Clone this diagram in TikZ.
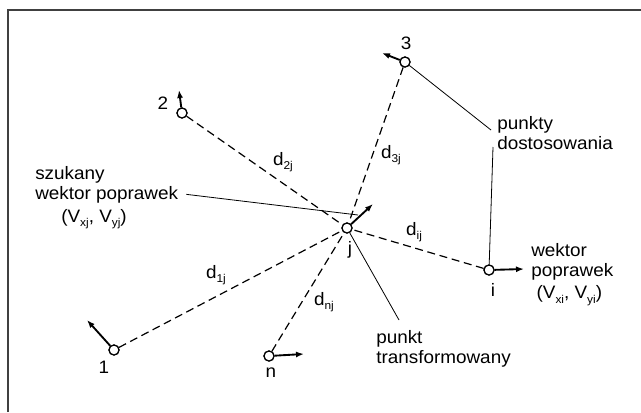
\documentclass[tikz,border=0pt]{standalone}
\usepackage{fontspec}
\setmainfont{Liberation Sans}[FakeStretch=1.05]
\usetikzlibrary{arrows.meta}

\newcommand{\lowidx}[1]{\raisebox{-0.45ex}{\fontsize{8.5}{8.5}\selectfont #1}}

\begin{document}
\begin{tikzpicture}[
  x=0.75pt, y=-0.75pt,
  font=\fontsize{13.5}{15}\selectfont,
  pt/.style={circle, draw, line width=0.9pt, fill=white, minimum size=7.5pt, inner sep=0pt},
  lbl/.style={inner sep=0pt},
  txt/.style={anchor=north west, align=left, inner sep=0pt},
  line/.style={anchor=base west, inner sep=0pt},
  link/.style={dash pattern=on 6pt off 3.5pt, line width=0.9pt},
  lead/.style={line width=0.6pt},
  vec/.style={->, line width=1.4pt},
  >={Latex[length=6pt, width=4.5pt]}
]
  \useasboundingbox (0,0) rectangle (641,412);
  \draw[black!75, line width=1.4pt] (8,412) -- (8,10) -- (641,10);

  % texts of the leaders
  \node[line] (sz1) at (35,179) {szukany};
  \node[line] (sz2) at (35,199) {wektor poprawek};
  \node[line] (sz3) at (61,222) {(V\lowidx{xj}, V\lowidx{yj})};
  \node[txt] (wek) at (531,243) {wektor\\poprawek\\[2pt]\hspace*{4pt}(V\lowidx{xi}, V\lowidx{yi})};
  \node[txt] (dost) at (497,116) {punkty\\dostosowania};
  \node[txt] (trans) at (376,330) {punkt\\transformowany};

  \coordinate (jt) at (358,215);
  \coordinate (pd1) at (491,130);
  \coordinate (pd2) at (493,147);
  \coordinate (tr) at (399,320);

  \node[pt] (pj) at (347,228) {};
  \node[pt] (p1) at (114,350) {};
  \node[pt] (p2) at (182,113) {};
  \node[pt] (p3) at (405,62) {};
  \node[pt] (pn) at (269,356) {};
  \node[pt] (pi) at (489,270) {};

  \draw[link] (p1) -- (pj);
  \draw[link] (p2) -- (pj);
  \draw[link] (p3) -- (pj);
  \draw[link] (pn) -- (pj);
  \draw[link] (pi) -- (pj);

  \draw[lead] ([xshift=6pt]sz2.east) -- (jt);
  \draw[lead] (p3) -- (pd1);
  \draw[lead] (pd2) -- (pi);
  \draw[lead] (pj) -- (tr);

  \coordinate (aj) at (373,204);
  \coordinate (a1) at (87,320);
  \coordinate (a2) at (179,90);
  \coordinate (a3) at (382,53);
  \coordinate (an) at (304,354);
  \coordinate (ai) at (524,269);
  \draw[vec] (pj) -- (aj);
  \draw[vec] (p1) -- (a1);
  \draw[vec] (p2) -- (a2);
  \draw[vec] (p3) -- (a3);
  \draw[vec] (pn) -- (an);
  \draw[vec] (pi) -- (ai);

  % points on top of the lines
  \node[pt] at (pj) {};
  \node[pt] at (p1) {};
  \node[pt] at (p2) {};
  \node[pt] at (p3) {};
  \node[pt] at (pn) {};
  \node[pt] at (pi) {};

  \node[lbl] (l1) at (104,367) {1};
  \node[lbl] (l2) at (163,103) {2};
  \node[lbl] (l3) at (406,43) {3};
  \node[lbl] (ln) at (271,373) {n};
  \node[lbl] (li) at (493,290) {i};
  \node[lbl] (lj) at (350,250) {j};

  \node[lbl] (d2) at (283,162) {d\lowidx{2j}};
  \node[lbl] (d3) at (391,155) {d\lowidx{3j}};
  \node[lbl] (di) at (414,232) {d\lowidx{ij}};
  \node[lbl] (d1) at (216,275) {d\lowidx{1j}};
  \node[lbl] (dn) at (324,302) {d\lowidx{nj}};
\end{tikzpicture}
\end{document}
